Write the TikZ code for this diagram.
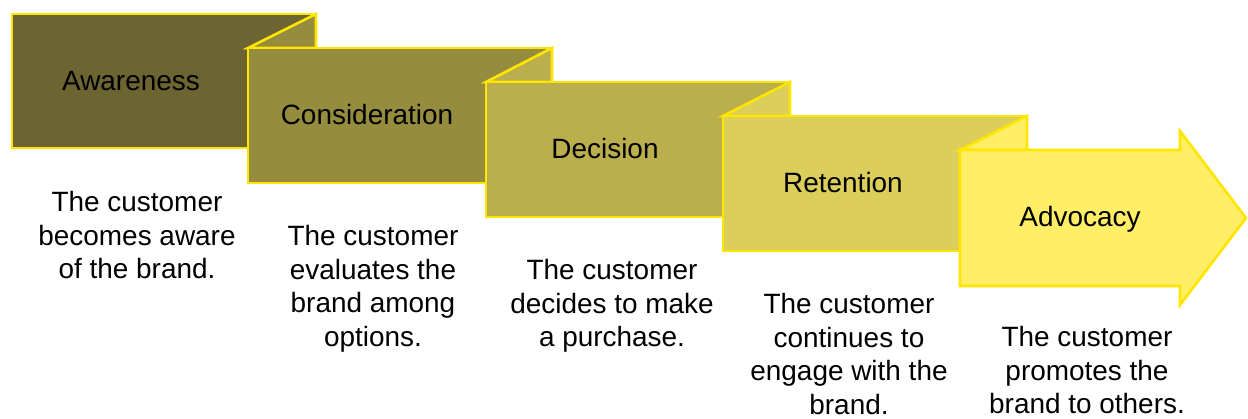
\documentclass[tikz,border=0pt]{standalone}
\usepackage{fontspec}
\setmainfont{Liberation Sans}
\definecolor{rimyellow}{HTML}{FFE600}
\definecolor{stageA}{HTML}{6C6431}
\definecolor{stageB}{HTML}{958C3D}
\definecolor{stageC}{HTML}{BAAF4C}
\definecolor{stageD}{HTML}{DBCE5B}
\definecolor{stageE}{HTML}{FFEE66}
\tikzset{
  stagebox/.style={draw=rimyellow,line width=1.5pt,line join=miter},
  stagename/.style={font=\fontsize{15.9}{19}\selectfont,anchor=base,inner sep=0pt},
  stagenote/.style={font=\fontsize{15.9}{19.1}\selectfont,align=center,anchor=north,inner sep=0pt},
}
\begin{document}
\begin{tikzpicture}[x=0.02cm,y=-0.02cm]
\useasboundingbox (0,0) rectangle (1248,419);

% Awareness
\draw[stagebox,fill=stageA] (12,14) rectangle (316,148);
\draw[stagebox,fill=stageB] (316,14) -- (248,48) -- (316,48) -- cycle;

% Consideration
\draw[stagebox,fill=stageB] (248,48) rectangle (552,183);
\draw[stagebox,fill=stageC] (552,48) -- (486,82) -- (552,82) -- cycle;

% Decision
\draw[stagebox,fill=stageC] (486,82) rectangle (790,217);
\draw[stagebox,fill=stageD] (790,82) -- (723,116) -- (790,116) -- cycle;

% Retention
\draw[stagebox,fill=stageD] (723,116) rectangle (1027,251);
\draw[stagebox,fill=stageE] (1027,116) -- (960,150) -- (1027,150) -- cycle;

% Advocacy (arrow)
\draw[stagebox,fill=stageE] (960,150) -- (1180,150) -- (1180,131) -- (1246,218)
  -- (1180,305) -- (1180,286) -- (960,286) -- cycle;

% Stage names
\node[stagename] (awareness) at (131,90) {Awareness};
\node[stagename] (consideration) at (367,124) {Consideration};
\node[stagename] (decision) at (605,158) {Decision};
\node[stagename] (retention) at (843,192) {Retention};
\node[stagename] (advocacy) at (1080,226) {Advocacy};

% Descriptions
\node[stagenote] (awarenote) at (137,191) {The customer\\becomes aware\\of the brand.};
\node[stagenote] (considernote) at (373,225) {The customer\\evaluates the\\brand among\\options.};
\node[stagenote] (decidenote) at (612,259) {The customer\\decides to make\\a purchase.};
\node[stagenote] (retainnote) at (849,293) {The customer\\continues to\\engage with the\\brand.};
\node[stagenote] (advocatenote) at (1087,326) {The customer\\promotes the\\brand to others.};
\end{tikzpicture}
\end{document}
